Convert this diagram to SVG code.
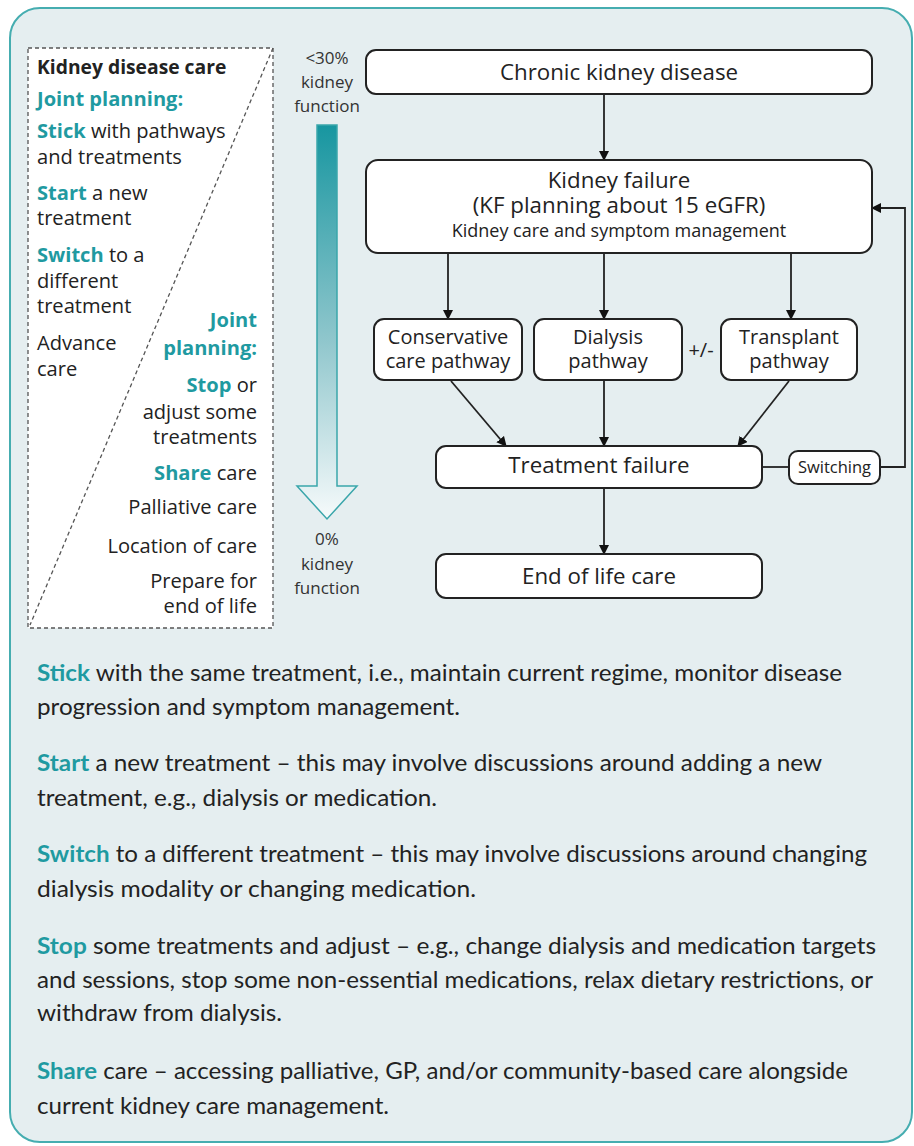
<svg xmlns="http://www.w3.org/2000/svg" width="914" height="1146" viewBox="0 0 914 1146">
<defs>
<style>
text{font-family:"Open Sans",Lato,"Liberation Sans",sans-serif;fill:#222;}
.t{fill:#1f9aa1;font-weight:bold;}
.b{font-weight:bold;}
.box{fill:#fff;stroke:#222;stroke-width:2;}
.c{stroke:#222;stroke-width:1.8;fill:none;}
.lp{font-size:20.1px;}
.fl{font-size:22.3px;text-anchor:middle;}
.pw{font-size:20px;text-anchor:middle;}
.sl{font-size:17px;text-anchor:middle;fill:#333;}
.bt{font-size:22.5px;font-family:Lato,"Open Sans",sans-serif;}
</style>
<marker id="ah" viewBox="0 0 10 10" refX="9" refY="5" markerWidth="10" markerHeight="10" markerUnits="userSpaceOnUse" orient="auto">
<path d="M0,0 L10,5 L0,10 Z" fill="#111"/>
</marker>
<linearGradient id="g" gradientUnits="userSpaceOnUse" x1="0" y1="125" x2="0" y2="515">
<stop offset="0" stop-color="#1796a0"/>
<stop offset="0.55" stop-color="#8fc6cc"/>
<stop offset="1" stop-color="#f4f9fa"/>
</linearGradient>
</defs>

<rect x="10" y="8" width="902" height="1134" rx="30" fill="#e5eef0" stroke="#45adb0" stroke-width="2"/>

<g id="left-panel">
<rect x="28" y="48" width="245" height="580" fill="#fff" stroke="#555" stroke-width="1.3" stroke-dasharray="4 3"/>
<line x1="273" y1="48" x2="30" y2="625" stroke="#555" stroke-width="1.3" stroke-dasharray="4 3"/>
<text class="b" font-size="19.3" x="37" y="74">Kidney disease care</text>
<text class="lp t" x="37" y="106">Joint planning:</text>
<text class="lp" x="37" y="138"><tspan class="t">Stick</tspan> with pathways<tspan x="37" dy="26">and treatments</tspan></text>
<text class="lp" x="37" y="200"><tspan class="t">Start</tspan> a new<tspan x="37" dy="25">treatment</tspan></text>
<text class="lp" x="37" y="262"><tspan class="t">Switch</tspan> to a<tspan x="37" dy="26">different</tspan><tspan x="37" dy="25">treatment</tspan></text>
<text class="lp" x="37" y="350">Advance<tspan x="37" dy="26">care</tspan></text>
<g text-anchor="end">
<text class="lp t" x="257" y="327">Joint<tspan x="257" dy="28">planning:</tspan></text>
<text class="lp" x="257" y="392"><tspan class="t">Stop</tspan> or<tspan x="257" dy="27">adjust some</tspan><tspan x="257" dy="25">treatments</tspan></text>
<text class="lp" x="257" y="480"><tspan class="t">Share</tspan> care</text>
<text class="lp" x="257" y="514">Palliative care</text>
<text class="lp" x="257" y="553">Location of care</text>
<text class="lp" x="257" y="588">Prepare for<tspan x="257" dy="25">end of life</tspan></text>
</g>
</g>

<g id="kidney-function-arrow">
<path d="M317,125 H337 V486 H357 L327,519 L297,486 H317 Z" fill="url(#g)" stroke="#3aa6ab" stroke-width="1.5"/>
<text class="sl" x="327" y="64">&lt;30%<tspan x="327" dy="24">kidney</tspan><tspan x="327" dy="24">function</tspan></text>
<text class="sl" x="327" y="545">0%<tspan x="327" dy="25">kidney</tspan><tspan x="327" dy="24">function</tspan></text>
</g>

<g id="connectors">
<line class="c" x1="604" y1="94" x2="604" y2="160" marker-end="url(#ah)"/>
<line class="c" x1="448" y1="253" x2="448" y2="319" marker-end="url(#ah)"/>
<line class="c" x1="604" y1="253" x2="604" y2="319" marker-end="url(#ah)"/>
<line class="c" x1="791" y1="253" x2="791" y2="319" marker-end="url(#ah)"/>
<line class="c" x1="451" y1="381" x2="506" y2="446" marker-end="url(#ah)"/>
<line class="c" x1="604" y1="380" x2="604" y2="446" marker-end="url(#ah)"/>
<line class="c" x1="789" y1="381" x2="738" y2="446" marker-end="url(#ah)"/>
<line class="c" x1="604" y1="488" x2="604" y2="554" marker-end="url(#ah)"/>
<line class="c" x1="762" y1="467" x2="789" y2="467"/>
<polyline class="c" points="880,467 905,467 905,208 872,208" marker-end="url(#ah)"/>
</g>

<g id="ckd">
<rect class="box" x="366" y="50" width="506" height="44" rx="10"/>
<text class="fl" x="619" y="80">Chronic kidney disease</text>
</g>

<g id="kidney-failure">
<rect class="box" x="366" y="160" width="506" height="93" rx="12"/>
<text class="fl" x="619" y="188">Kidney failure<tspan x="619" dy="25">(KF planning about 15 eGFR)</tspan><tspan x="619" dy="24" font-size="18">Kidney care and symptom management</tspan></text>
</g>

<g id="conservative">
<rect class="box" x="374" y="319" width="148" height="61" rx="10"/>
<text class="pw" x="448" y="344">Conservative<tspan x="448" dy="24">care pathway</tspan></text>
</g>

<g id="dialysis">
<rect class="box" x="534" y="319" width="148" height="61" rx="10"/>
<text class="pw" x="608" y="344">Dialysis<tspan x="608" dy="24">pathway</tspan></text>
</g>

<text id="plus-minus" x="701" y="357" font-size="20" text-anchor="middle">+/-</text>

<g id="transplant">
<rect class="box" x="721" y="319" width="136" height="61" rx="10"/>
<text class="pw" x="789" y="344">Transplant<tspan x="789" dy="24">pathway</tspan></text>
</g>

<g id="treatment-failure">
<rect class="box" x="436" y="446" width="326" height="42" rx="10"/>
<text class="fl" x="599" y="473">Treatment failure</text>
</g>

<g id="switching">
<rect class="box" x="789" y="451" width="91" height="33" rx="9"/>
<text x="834.5" y="473" font-size="16.5" text-anchor="middle">Switching</text>
</g>

<g id="end-of-life">
<rect class="box" x="436" y="554" width="326" height="44" rx="10"/>
<text class="fl" x="599" y="584">End of life care</text>
</g>

<g id="notes">
<text class="bt" x="37" y="681" textLength="805" lengthAdjust="spacingAndGlyphs"><tspan class="t">Stick</tspan> with the same treatment, i.e., maintain current regime, monitor disease</text>
<text class="bt" x="37" y="715" textLength="423" lengthAdjust="spacingAndGlyphs">progression and symptom management.</text>
<text class="bt" x="37" y="771" textLength="785" lengthAdjust="spacingAndGlyphs"><tspan class="t">Start</tspan> a new treatment – this may involve discussions around adding a new</text>
<text class="bt" x="37" y="806" textLength="400" lengthAdjust="spacingAndGlyphs">treatment, e.g., dialysis or medication.</text>
<text class="bt" x="37" y="862" textLength="830" lengthAdjust="spacingAndGlyphs"><tspan class="t">Switch</tspan> to a different treatment – this may involve discussions around changing</text>
<text class="bt" x="37" y="897" textLength="439" lengthAdjust="spacingAndGlyphs">dialysis modality or changing medication.</text>
<text class="bt" x="37" y="954" textLength="839" lengthAdjust="spacingAndGlyphs"><tspan class="t">Stop</tspan> some treatments and adjust – e.g., change dialysis and medication targets</text>
<text class="bt" x="37" y="988" textLength="836" lengthAdjust="spacingAndGlyphs">and sessions, stop some non-essential medications, relax dietary restrictions, or</text>
<text class="bt" x="37" y="1021" textLength="245" lengthAdjust="spacingAndGlyphs">withdraw from dialysis.</text>
<text class="bt" x="37" y="1079" textLength="811" lengthAdjust="spacingAndGlyphs"><tspan class="t">Share</tspan> care – accessing palliative, GP, and/or community-based care alongside</text>
<text class="bt" x="37" y="1114" textLength="352" lengthAdjust="spacingAndGlyphs">current kidney care management.</text>
</g>
</svg>
